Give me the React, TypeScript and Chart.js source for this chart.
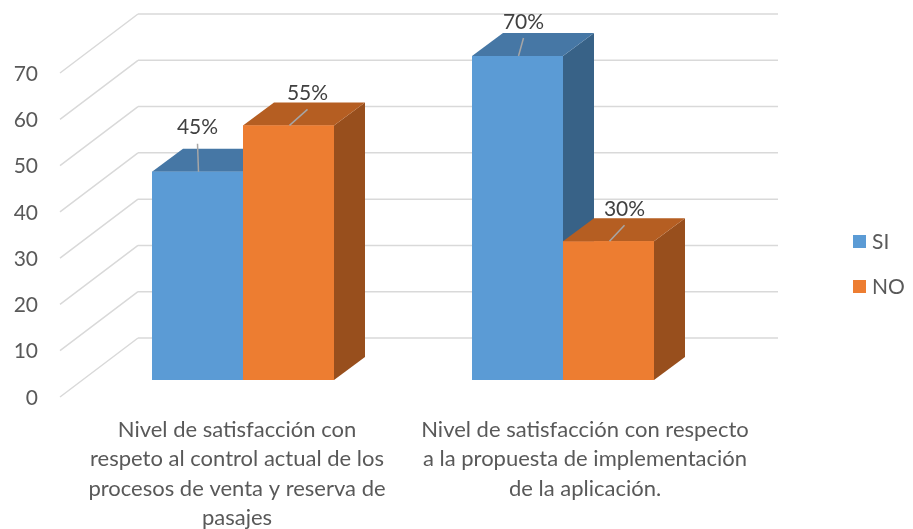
import React, { useEffect, useRef } from "react";
import { Chart, registerables } from "chart.js";

Chart.register(...registerables);

// ---- data ----
const categoryLabels: string[][] = [
  ["Nivel de satisfacción con", "respeto al control actual de los", "procesos de venta y reserva de", "pasajes"],
  ["Nivel de satisfacción con respecto", "a la propuesta de implementación", "de la aplicación."],
];
const seriesNames = ["SI", "NO"];
const siValues = [45, 70];
const noValues = [55, 30];
const siLabels = ["45%", "70%"];
const noLabels = ["55%", "30%"];
const yMin = 0;
const yMax = 70;
const yStep = 10;

// ---- styling ----
const FONT = "Lato, 'Open Sans', sans-serif";
const TEXT = "#595959";
const BACK = { dx: 55, dy: -43 };
const FRONT = { dx: -23, dy: 17 };
const DEPTH = { dx: 31, dy: -23 };
const FACE = [
  { front: "#5B9BD5", top: "#4677A5", side: "#386287" },
  { front: "#ED7D31", top: "#B55E22", side: "#984F1D" },
];
// label offsets relative to bar front-top center
const DATA_LABEL_OFFSETS = [
  [ { dx: 0, dy: -45 }, { dx: 6, dy: -35 } ],
  [ { dx: 19, dy: -33 }, { dx: 16, dy: -33 } ],
];
const CAT_LABEL_OFFSETS = [-6, 22];

const bar3d = {
  id: "bar3d",
  beforeDatasetsDraw(chart: any) {
    const { ctx, chartArea, scales } = chart;
    const y = scales.y;
    let values: number[] = (y.ticks || []).map((t: any) => t.value);
    if (!values.length) {
      for (let v = y.min; v <= y.max + 1e-9; v += yStep) values.push(v);
    }
    ctx.save();
    ctx.strokeStyle = "#d9d9d9";
    ctx.lineWidth = 1.5;
    for (const v of values) {
      const py = y.getPixelForValue(v);
      ctx.beginPath();
      ctx.moveTo(chartArea.left + BACK.dx, py + BACK.dy + 1);
      ctx.lineTo(chartArea.right + BACK.dx, py + BACK.dy + 1);
      ctx.moveTo(chartArea.left + FRONT.dx, py + FRONT.dy);
      ctx.lineTo(chartArea.left + BACK.dx, py + BACK.dy + 1);
      ctx.stroke();
    }
    ctx.fillStyle = TEXT;
    ctx.font = `21px ${FONT}`;
    ctx.textAlign = "right";
    ctx.textBaseline = "middle";
    for (const v of values) {
      const py = y.getPixelForValue(v);
      ctx.fillText(String(v), chartArea.left - 45, py + FRONT.dy + 1);
    }
    ctx.restore();
  },
  afterDatasetsDraw(chart: any) {
    const { ctx, chartArea, scales } = chart;
    const n = chart.data.labels.length;
    const metas = chart.data.datasets.map((_: any, i: number) => chart.getDatasetMeta(i));
    ctx.save();
    for (let i = 0; i < n; i++) {
      metas.forEach((meta: any, di: number) => {
        const el = meta.data[i];
        const { x, y, base, width } = el.getProps(["x", "y", "base", "width"], true);
        const l = x - width / 2;
        const r = x + width / 2;
        const c = FACE[di];
        // side
        ctx.fillStyle = c.side;
        ctx.beginPath();
        ctx.moveTo(r, y);
        ctx.lineTo(r + DEPTH.dx, y + DEPTH.dy);
        ctx.lineTo(r + DEPTH.dx, base + DEPTH.dy);
        ctx.lineTo(r, base);
        ctx.closePath();
        ctx.fill();
        // top
        ctx.fillStyle = c.top;
        ctx.beginPath();
        ctx.moveTo(l, y);
        ctx.lineTo(l + DEPTH.dx, y + DEPTH.dy);
        ctx.lineTo(r + DEPTH.dx, y + DEPTH.dy);
        ctx.lineTo(r, y);
        ctx.closePath();
        ctx.fill();
        // front
        ctx.fillStyle = c.front;
        ctx.fillRect(l, y, width, base - y);
      });
    }
    // data labels with leader lines
    const labelSets = [siLabels, noLabels];
    metas.forEach((meta: any, di: number) => {
      meta.data.forEach((el: any, i: number) => {
        const { x, y } = el.getProps(["x", "y"], true);
        const off = DATA_LABEL_OFFSETS[di][i];
        const lx = x + off.dx;
        const ly = y + off.dy;
        ctx.strokeStyle = "#a6a6a6";
        ctx.lineWidth = 1.5;
        ctx.beginPath();
        ctx.moveTo(x + 1, y);
        ctx.lineTo(lx, ly + 17);
        ctx.stroke();
        ctx.fillStyle = "#404040";
        ctx.font = `21px ${FONT}`;
        ctx.textAlign = "center";
        ctx.textBaseline = "middle";
        ctx.fillText(labelSets[di][i], lx, ly + 1);
      });
    });
    // category labels
    const xs = scales.x;
    ctx.fillStyle = TEXT;
    ctx.font = `22px ${FONT}`;
    ctx.textAlign = "center";
    ctx.textBaseline = "middle";
    categoryLabels.forEach((lines, i) => {
      const cx = xs.getPixelForValue(i) + CAT_LABEL_OFFSETS[i];
      lines.forEach((line, k) => {
        ctx.fillText(line, cx, chartArea.bottom + 50 + k * 29.3);
      });
    });
    // legend
    ctx.font = `21px ${FONT}`;
    ctx.textAlign = "left";
    chart.data.datasets.forEach((ds: any, di: number) => {
      const ly = 241.5 + di * 45;
      ctx.fillStyle = FACE[di].front;
      ctx.fillRect(853, ly - 6.5, 13, 13);
      ctx.fillStyle = TEXT;
      ctx.fillText(ds.label, 872, ly + 1);
    });
    ctx.restore();
  },
};

export default function App() {
  const ref = useRef<HTMLCanvasElement | null>(null);
  useEffect(() => {
    if (!ref.current) return;
    const chart = new Chart(ref.current, {
      type: "bar",
      data: {
        labels: categoryLabels.map((l) => l.join(" ")),
        datasets: [
          { label: seriesNames[0], data: siValues, backgroundColor: FACE[0].front, barPercentage: 1, categoryPercentage: 0.56875 },
          { label: seriesNames[1], data: noValues, backgroundColor: FACE[1].front, barPercentage: 1, categoryPercentage: 0.56875 },
        ],
      },
      options: {
        responsive: false,
        animation: false,
        layout: { padding: { left: 83, right: 190, top: 56, bottom: 149 } },
        plugins: { legend: { display: false }, tooltip: { enabled: false } },
        scales: {
          x: { display: false, offset: true },
          y: { display: false, min: yMin, max: yMax, ticks: { stepSize: yStep } },
        },
      },
      plugins: [bar3d],
    });
    return () => chart.destroy();
  }, []);
  return (
    <div style={{ position: "fixed", left: 0, top: 0, width: 913, height: 529, background: "#fff" }}>
      <canvas ref={ref} width={913} height={529} style={{ width: 913, height: 529 }} />
    </div>
  );
}
